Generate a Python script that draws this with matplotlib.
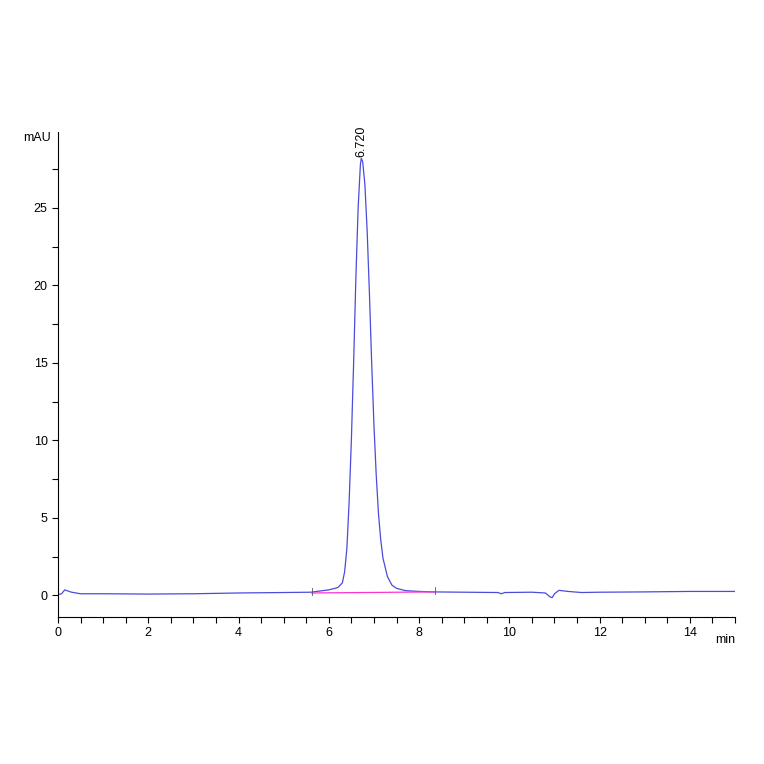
import matplotlib

matplotlib.use("Agg")
import matplotlib.pyplot as plt
from matplotlib.ticker import MultipleLocator

# chromatogram trace (min, mAU)
TIME = [0, 0.08, 0.15, 0.3, 0.5, 1, 2, 3, 4, 5, 5.6, 6.0, 6.2, 6.3, 6.35, 6.4, 6.45,
        6.5, 6.55, 6.6, 6.65, 6.7, 6.72, 6.75, 6.8, 6.85, 6.9, 6.95, 7.0, 7.05, 7.1,
        7.15, 7.2, 7.3, 7.4, 7.5, 7.7, 8.0, 8.3, 9, 9.75, 9.82, 9.9, 10.5, 10.8,
        10.9, 10.95, 11.0, 11.1, 11.3, 11.6, 12, 13, 14, 15]
SIGNAL = [0.05, 0.1, 0.35, 0.2, 0.1, 0.1, 0.08, 0.1, 0.15, 0.18, 0.2, 0.35, 0.5, 0.8,
          1.5, 3.0, 6.0, 10.0, 15.0, 20.5, 25.0, 27.8, 28.2, 28.0, 26.5, 23.5, 19.5,
          15.0, 11.0, 7.8, 5.3, 3.6, 2.4, 1.2, 0.65, 0.45, 0.3, 0.25, 0.22, 0.2,
          0.18, 0.1, 0.18, 0.2, 0.15, -0.1, -0.15, 0.1, 0.32, 0.25, 0.18, 0.2, 0.22,
          0.25, 0.25]
BASE_TIME = [5.62, 8.35]
BASE_SIGNAL = [0.15, 0.22]
PEAK_RT = 6.720
PEAK_HEIGHT = 28.2

fig = plt.figure(figsize=(7.64, 7.64), dpi=100)
ax = fig.add_axes([58 / 764, 1 - 617 / 764, (735 - 58) / 764, (617 - 132) / 764])
ax.plot(TIME, SIGNAL, color="#4b4bdc", linewidth=0.9)
ax.plot(BASE_TIME, BASE_SIGNAL, color="#ff33cc", linewidth=0.9)
for t, v in zip(BASE_TIME, BASE_SIGNAL):
    ax.plot([t, t], [v - 0.15, v + 0.3], color="#555555", linewidth=0.6)
ax.text(PEAK_RT, PEAK_HEIGHT + 0.1, f"{PEAK_RT:.3f}", rotation=90, ha="center",
        va="bottom", fontsize=9, family="Liberation Sans")

ax.set_xlim(0, 15)
ax.set_ylim(-1.4, 29.9)
ax.xaxis.set_major_locator(MultipleLocator(2))
ax.xaxis.set_minor_locator(MultipleLocator(0.5))
ax.yaxis.set_major_locator(MultipleLocator(5))
ax.yaxis.set_minor_locator(MultipleLocator(2.5))
ax.set_xticks([0, 2, 4, 6, 8, 10, 12, 14])
ax.tick_params(which="both", direction="out", length=4, width=0.8, labelsize=9)
for lbl in ax.get_xticklabels() + ax.get_yticklabels():
    lbl.set_family("Liberation Sans")
ax.spines["top"].set_visible(False)
ax.spines["right"].set_visible(False)
ax.text(-0.01, 1.0, "mAU", transform=ax.transAxes, ha="right", va="top",
        fontsize=9, family="Liberation Sans")
ax.text(1.0, -0.035, "min", transform=ax.transAxes, ha="right", va="top",
        fontsize=9, family="Liberation Sans")

fig.savefig("out.png", dpi=100)
